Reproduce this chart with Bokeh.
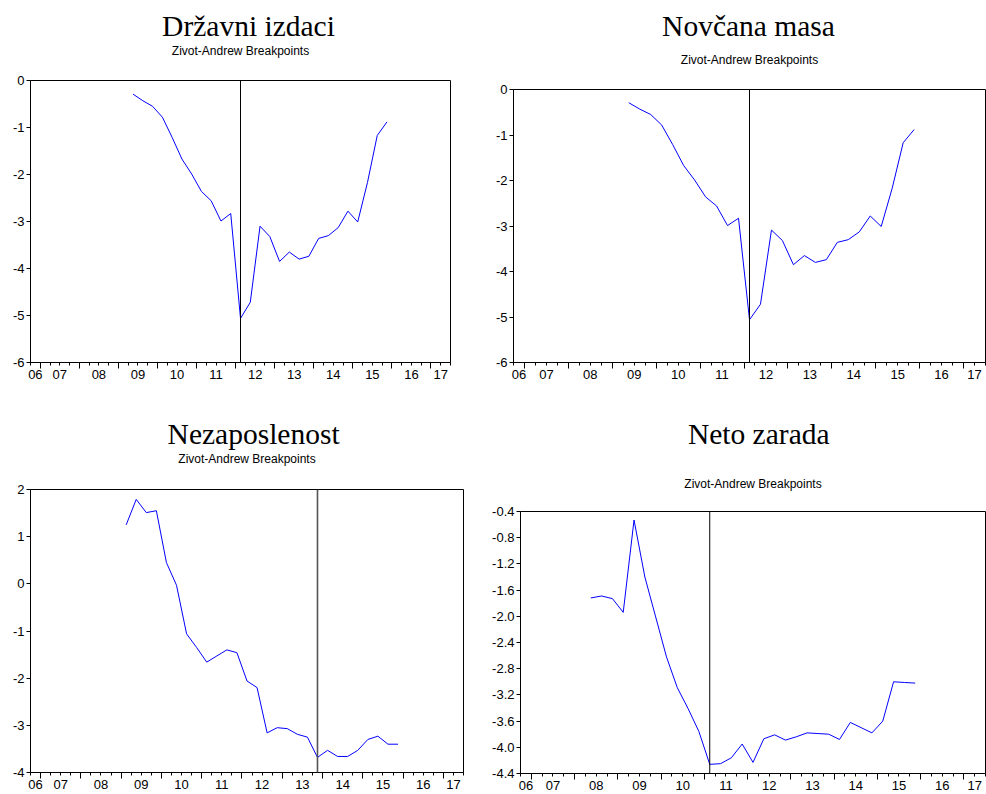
from bokeh.plotting import figure
from bokeh.models import (Range1d, FixedTicker, LinearAxis, Span, Title,
                          NumeralTickFormatter, CustomJSTickFormatter)
from bokeh.layouts import column, row
from bokeh.embed import file_html
from bokeh.resources import INLINE

# ---------------- data ----------------
subtitle_text = "Zivot-Andrew Breakpoints"

gov_title = "Državni izdaci"
gov_start = (2009, 2)
gov_break = (2012, 1)
gov_values = [-0.29, -0.43, -0.55, -0.78, -1.21, -1.67, -1.99, -2.36, -2.56,
              -2.99, -2.83, -5.06, -4.72, -3.10, -3.32, -3.85, -3.65, -3.80,
              -3.74, -3.36, -3.30, -3.13, -2.78, -3.01, -2.17, -1.17, -0.88]

m_title = "Novčana masa"
m_start = (2009, 2)
m_break = (2012, 1)
m_values = [-0.29, -0.43, -0.55, -0.78, -1.21, -1.67, -1.99, -2.36, -2.56,
            -2.99, -2.83, -5.06, -4.72, -3.09, -3.32, -3.85, -3.65, -3.80,
            -3.74, -3.36, -3.30, -3.13, -2.78, -3.01, -2.17, -1.17, -0.88]

u_title = "Nezaposlenost"
u_start = (2009, 1)
u_break = (2013, 4)
u_values = [1.25, 1.79, 1.51, 1.55, 0.45, -0.03, -1.06, -1.35, -1.66, -1.53,
            -1.40, -1.46, -2.06, -2.20, -3.16, -3.05, -3.07, -3.19, -3.25,
            -3.68, -3.53, -3.66, -3.66, -3.53, -3.30, -3.23, -3.40, -3.40]

w_title = "Neto zarada"
w_start = (2008, 2)
w_break = (2011, 1)
w_values = [-1.72, -1.69, -1.73, -1.94, -0.53, -1.40, -2.01, -2.62, -3.09,
            -3.41, -3.76, -4.26, -4.25, -4.16, -3.95, -4.23, -3.87, -3.81,
            -3.89, -3.84, -3.78, -3.79, -3.80, -3.88, -3.62, -3.70, -3.78,
            -3.60, -3.00, -3.01, -3.02]

axis_start = (2006, 4)   # first quarter shown
axis_end = (2017, 2)     # last quarter shown
year_ticks = list(range(2007, 2018))

y_ticks_a = [0, -1, -2, -3, -4, -5, -6]
y_ticks_u = [2, 1, 0, -1, -2, -3, -4]
y_ticks_w = [-0.4, -0.8, -1.2, -1.6, -2.0, -2.4, -2.8, -3.2, -3.6, -4.0, -4.4]


def q_mid(yq):
    return yq[0] + (yq[1] - 1) * 0.25 + 0.125


def q_start(yq):
    return yq[0] + (yq[1] - 1) * 0.25


def dates(start, n):
    s = q_mid(start)
    return [s + 0.25 * i for i in range(n)]


SANS = "Liberation Sans"
SERIF = "Liberation Serif"


def spacer(size):
    return Title(text=" ", text_font_size="1px", standoff=max(0, size - 3),
                 text_color="white")


def panel(width, height, borders, title, t_left, gap1, gap2,
          start, values, brk, yticks, yfmt, break_color="black", break_width=1):
    x0 = q_start(axis_start)
    x1 = q_start(axis_end) + 0.25
    lo, hi = min(yticks), max(yticks)
    p = figure(width=width, height=height, output_backend="svg", toolbar_location=None,
               title=None, x_axis_location=None, y_axis_location=None,
               x_range=Range1d(x0, x1), y_range=Range1d(lo, hi),
               min_border_left=borders[0], min_border_right=borders[1],
               min_border_top=borders[2], min_border_bottom=borders[3],
               background_fill_color="white", border_fill_color="white")
    p.xgrid.grid_line_color = None
    p.ygrid.grid_line_color = None
    p.outline_line_color = "black"
    p.outline_line_width = 1
    p.outline_line_alpha = 1

    # y axis
    ya = LinearAxis(ticker=FixedTicker(ticks=yticks, minor_ticks=[]),
                    formatter=NumeralTickFormatter(format=yfmt),
                    major_tick_out=4, major_tick_in=0, minor_tick_out=0, minor_tick_in=0,
                    axis_line_color="black", major_tick_line_color="black",
                    major_label_text_font=SANS, major_label_text_font_size="13px",
                    major_label_text_color="black", major_label_standoff=2)
    p.add_layout(ya, "left")

    # x tick marks (years long, quarters short)
    quarters = [x0 + 0.25 * i for i in range(int(round((x1 - x0) / 0.25)) + 1)]
    xa = LinearAxis(ticker=FixedTicker(ticks=year_ticks, minor_ticks=quarters),
                    major_tick_out=6, major_tick_in=0, minor_tick_out=3, minor_tick_in=0,
                    axis_line_color="black", major_tick_line_color="black",
                    minor_tick_line_color="black",
                    major_label_text_font_size="0px", major_label_standoff=0,
                    formatter=CustomJSTickFormatter(code="return ''"))
    p.add_layout(xa, "below")

    # x year labels centred in each visible year
    label_pos = [(max(x0, y) + min(x1, y + 1)) / 2.0 for y in range(2006, 2018)]
    xl = LinearAxis(ticker=FixedTicker(ticks=label_pos, minor_ticks=[]),
                    formatter=CustomJSTickFormatter(
                        code="return String(Math.floor(tick) % 100).padStart(2, '0')"),
                    major_tick_out=0, major_tick_in=0, minor_tick_out=0, minor_tick_in=0,
                    axis_line_color=None, major_tick_line_color=None,
                    major_label_text_font=SANS, major_label_text_font_size="13px",
                    major_label_text_color="black", major_label_standoff=1)
    p.add_layout(xl, "below")

    p.line(dates(start, len(values)), values, line_color="#0000FF", line_width=1)
    p.add_layout(Span(location=q_mid(brk), dimension="height",
                      line_color=break_color, line_width=break_width))

    # titles, stacked outward from the frame
    p.add_layout(spacer(gap1), "above")
    p.add_layout(Title(text=subtitle_text, align="center", text_font=SANS,
                       text_font_size="12px", text_font_style="normal",
                       text_color="black", standoff=0), "above")
    if gap2 > 0:
        p.add_layout(spacer(gap2), "above")
    p.add_layout(Title(text=title, align="left", offset=t_left, text_font=SERIF,
                       text_font_size="29.5px", text_font_style="normal",
                       text_color="black", standoff=0), "above")
    return p


p1 = panel(480, 400, (30, 30, 80, 38), gov_title, 131.6, 22.5, 0,
           gov_start, gov_values, gov_break, y_ticks_a, "0")
p2 = panel(506, 400, (33, 1, 89, 38), m_title, 148.6, 22.5, 9.2,
           m_start, m_values, m_break, y_ticks_a, "0")
p3 = panel(480, 394, (30, 17, 89, 22), u_title, 137.1, 23.5, 0,
           u_start, u_values, u_break, y_ticks_u, "0", break_color="#555555", break_width=1.6)
p4 = panel(506, 394, (40, 1, 111, 21), w_title, 167.4, 21.2, 25.2,
           w_start, w_values, w_break, y_ticks_w, "0.0")

layout = column(row(column(p1), column(p2)), row(column(p3), column(p4)))
open("out.html", "w").write(file_html(layout, INLINE))
